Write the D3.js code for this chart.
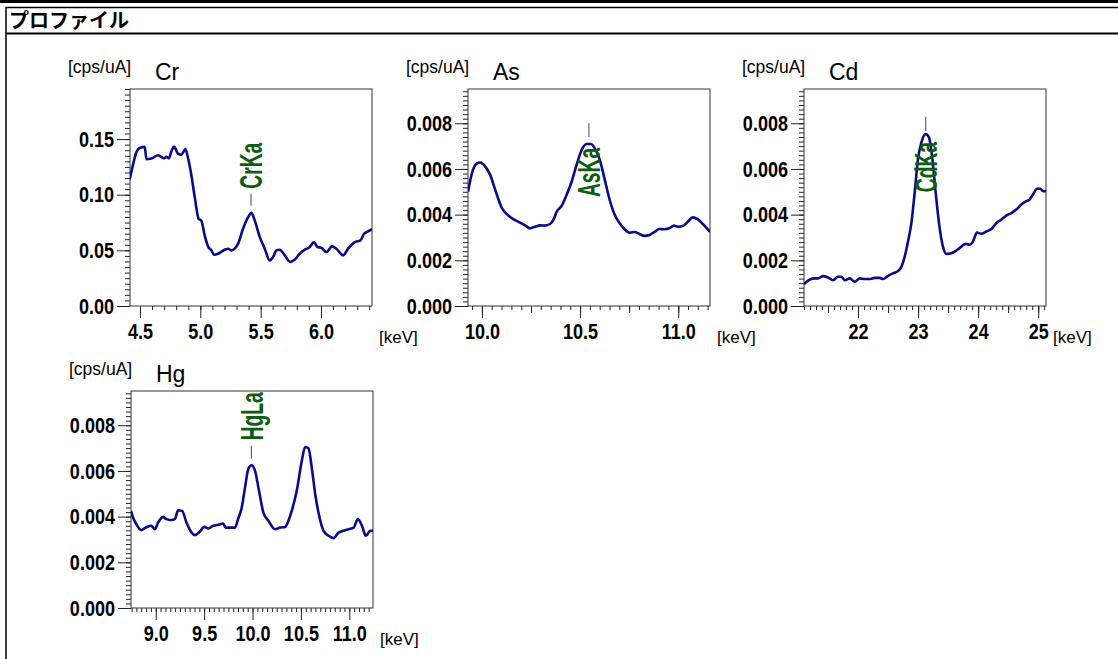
<!DOCTYPE html>
<html>
<head>
<meta charset="utf-8">
<script src="https://cdn.jsdelivr.net/npm/d3@7"></script>
<style>
body { margin: 0; background: #fff; }
svg { display: block; }
</style>
</head>
<body>
<div id="chart"></div>
<script>
// spectra (energy in keV, intensity in cps/uA)
var crEnergy = [4.415,4.442,4.469,4.497,4.539,4.553,4.594,4.649,4.677,4.699,4.718,4.740,4.760,4.782,4.815,4.843,4.876,4.898,4.925,4.954,4.987,5.008,5.036,5.064,5.091,5.114,5.147,5.202,5.230,5.257,5.285,5.313,5.354,5.396,5.423,5.451,5.493,5.534,5.575,5.603,5.630,5.658,5.700,5.746,5.783,5.824,5.866,5.907,5.943,5.970,6.003,6.045,6.092,6.128,6.183,6.225,6.280,6.327,6.357,6.390,6.423];
var crCps = [0.114,0.127,0.138,0.142,0.143,0.132,0.1325,0.1354,0.134,0.1327,0.134,0.1327,0.139,0.143,0.137,0.136,0.141,0.133,0.118,0.0976,0.078,0.0768,0.0634,0.0536,0.050,0.0461,0.047,0.0506,0.0515,0.050,0.0515,0.056,0.0694,0.0798,0.0837,0.0768,0.0619,0.0515,0.041,0.044,0.050,0.0506,0.0455,0.0396,0.0417,0.047,0.0506,0.053,0.0574,0.053,0.0524,0.0485,0.0536,0.0515,0.0455,0.0515,0.0574,0.059,0.0649,0.067,0.069];

var asEnergy = [9.929,9.949,9.975,9.991,10.017,10.042,10.068,10.102,10.127,10.160,10.194,10.220,10.245,10.271,10.296,10.321,10.347,10.364,10.381,10.406,10.431,10.457,10.482,10.508,10.533,10.555,10.575,10.601,10.626,10.651,10.677,10.702,10.727,10.753,10.778,10.803,10.829,10.854,10.880,10.905,10.930,10.955,10.978,10.998,11.023,11.049,11.074,11.099,11.125,11.162];
var asCps = [0.00500,0.00581,0.00625,0.00628,0.0061,0.00574,0.00508,0.00428,0.00402,0.0038,0.00365,0.00353,0.0034,0.00347,0.00353,0.00352,0.00359,0.00377,0.00413,0.00438,0.00486,0.00544,0.00617,0.00683,0.00709,0.00709,0.0069,0.00639,0.00552,0.00464,0.00398,0.00362,0.00336,0.00321,0.00324,0.00315,0.00307,0.00311,0.00325,0.00337,0.00336,0.0034,0.00352,0.00347,0.0035,0.00369,0.00388,0.0038,0.00359,0.00325];

var cdEnergy = [21.10,21.196,21.28,21.334,21.418,21.501,21.584,21.667,21.724,21.779,21.862,21.945,22.028,22.111,22.195,22.278,22.361,22.416,22.5,22.582,22.666,22.722,22.777,22.832,22.888,22.943,22.998,23.055,23.126,23.181,23.238,23.293,23.348,23.414,23.471,23.554,23.637,23.72,23.792,23.859,23.913,23.98,24.053,24.136,24.22,24.303,24.386,24.469,24.553,24.636,24.719,24.802,24.857,24.913,24.98,25.036,25.08,25.13];
var cdCps = [0.00096,0.00116,0.00121,0.00121,0.00131,0.00125,0.00113,0.00128,0.00128,0.00113,0.00121,0.00106,0.00121,0.00118,0.00118,0.00123,0.00123,0.00118,0.00132,0.00143,0.00153,0.00172,0.00216,0.00282,0.00363,0.00496,0.00643,0.00716,0.00753,0.00738,0.00643,0.00496,0.00363,0.0026,0.00228,0.00231,0.00243,0.0026,0.00272,0.00268,0.00282,0.00322,0.00316,0.00326,0.00337,0.00363,0.00378,0.00396,0.00407,0.00422,0.00444,0.00459,0.00466,0.00488,0.00513,0.00513,0.00503,0.00503];

var hgEnergy = [8.744,8.765,8.799,8.851,8.886,8.92,8.954,8.99,9.024,9.076,9.11,9.162,9.197,9.231,9.273,9.317,9.369,9.404,9.456,9.50,9.542,9.594,9.646,9.697,9.721,9.767,9.819,9.853,9.887,9.922,9.956,9.991,10.026,10.067,10.112,10.164,10.233,10.285,10.337,10.371,10.405,10.457,10.509,10.544,10.578,10.612,10.648,10.689,10.734,10.786,10.837,10.889,10.941,10.993,11.045,11.089,11.131,11.172,11.217,11.245];
var hgCps = [0.00425,0.00396,0.00367,0.00341,0.0035,0.00357,0.0036,0.00345,0.00374,0.00399,0.00389,0.00385,0.00389,0.00428,0.00425,0.00374,0.00331,0.00319,0.00335,0.00355,0.00348,0.0036,0.00364,0.0037,0.00352,0.00352,0.00352,0.00393,0.00437,0.00527,0.00608,0.00625,0.006,0.00513,0.00418,0.00382,0.00345,0.00352,0.00355,0.00382,0.00425,0.00513,0.00644,0.00705,0.00699,0.00615,0.00498,0.00403,0.00338,0.00316,0.00306,0.0033,0.00338,0.00345,0.00352,0.00389,0.0036,0.00316,0.00338,0.00338];

// tick labels
var crXTicks = [4.5, 5.0, 5.5, 6.0];
var asXTicks = [10.0, 10.5, 11.0];
var cdXTicks = [22, 23, 24, 25];
var hgXTicks = [9.0, 9.5, 10.0, 10.5, 11.0];
var crYTicks = [0, 0.05, 0.10, 0.15];
var smallYTicks = [0, 0.002, 0.004, 0.006, 0.008];

// peak markers: energy, marker bar (low/high) and where the label starts
var crPeak = {name: "CrKa", energy: 5.42,   low: 0.0902,  high: 0.1009,  text: 0.1054,  up: true};
var asPeak = {name: "AsKa", energy: 10.545, low: 0.0074,  high: 0.0080,  text: 0.00692, up: false};
var cdPeak = {name: "CdKa", energy: 23.127, low: 0.00766, high: 0.00828, text: 0.00718, up: false};
var hgPeak = {name: "HgLa", energy: 9.988,  low: 0.00653, high: 0.0071,  text: 0.00734, up: true};

var W = 1118, H = 659;
var plotW = 242, plotH = 217;
var txtFont = "'Liberation Sans', Arial, sans-serif";
var squeeze = 0.82; // tick labels in the original are a condensed face

var svg = d3.select("#chart").append("svg")
    .attr("width", W)
    .attr("height", H);

// window frame
svg.append("rect").attr("x", 0).attr("y", 0).attr("width", W).attr("height", 3).attr("fill", "#000");
svg.append("rect").attr("x", 6).attr("y", 7.5).attr("width", W + 10).attr("height", H + 10)
    .attr("fill", "none").attr("stroke", "#000").attr("stroke-width", 1.5);
svg.append("line").attr("x1", 6).attr("x2", W).attr("y1", 33.5).attr("y2", 33.5)
    .attr("stroke", "#000").attr("stroke-width", 2);
svg.append("text").attr("x", 9).attr("y", 28)
    .text("プロファイル")
    .style("font-family", "'Noto Sans CJK JP', sans-serif")
    .style("font-size", "20px")
    .style("font-weight", "bold");

function stepTicks(domain, step) {
    var out = [];
    var start = Math.ceil(domain[0] / step - 1e-6);
    for (var i = start; i * step <= domain[1] + 1e-9; i++) out.push(+(i * step).toFixed(6));
    return out;
}

function drawPanel(p) {
    var x = d3.scaleLinear().domain(p.xDomain).range([p.left, p.left + plotW]);
    var y = d3.scaleLinear().domain(p.yDomain).range([p.top + plotH, p.top]);
    var g = svg.append("g");
    var bottom = p.top + plotH;

    // minor ticks
    g.append("g").attr("transform", "translate(0," + bottom + ")")
        .call(d3.axisBottom(x).tickValues(stepTicks(p.xDomain, p.xMinor)).tickSize(4).tickFormat(""));
    if (p.xMid) {
        g.append("g").attr("transform", "translate(0," + bottom + ")")
            .call(d3.axisBottom(x).tickValues(stepTicks(p.xDomain, p.xMid)).tickSize(7).tickFormat(""));
    }
    g.append("g").attr("transform", "translate(" + p.left + ",0)")
        .call(d3.axisLeft(y).tickValues(stepTicks(p.yDomain, p.yMinor)).tickSize(5).tickFormat(""));

    // major ticks with labels
    var xa = g.append("g").attr("transform", "translate(0," + bottom + ")")
        .call(d3.axisBottom(x).tickValues(p.xTicks).tickSize(12).tickPadding(5).tickFormat(d3.format(p.xFmt)));
    var ya = g.append("g").attr("transform", "translate(" + p.left + ",0)")
        .call(d3.axisLeft(y).tickValues(p.yTicks).tickSize(13).tickPadding(3).tickFormat(d3.format(p.yFmt)));
    [xa, ya].forEach(function(a) {
        a.attr("font-family", txtFont).attr("font-size", 22).attr("font-weight", "bold");
        a.selectAll("text").attr("fill", "#000");
    });
    xa.selectAll("text").attr("transform", "scale(" + squeeze + ",1)");
    ya.selectAll("text")
        .attr("transform", "translate(-16,0) scale(" + squeeze + ",1)")
        .attr("x", 0);
    g.selectAll(".domain").remove();
    g.selectAll(".tick line").attr("stroke", "#222");

    // frame
    g.append("rect").attr("x", p.left).attr("y", p.top).attr("width", plotW).attr("height", plotH)
        .attr("fill", "none").attr("stroke", "#333").attr("stroke-width", 1);

    // curve
    var clipId = "clip-" + p.title;
    g.append("clipPath").attr("id", clipId).append("rect")
        .attr("x", p.left).attr("y", p.top).attr("width", plotW).attr("height", plotH);
    var pts = p.energy.map(function(e, i) { return [e, p.cps[i]]; });
    var line = d3.line()
        .x(function(d) { return x(d[0]); })
        .y(function(d) { return y(d[1]); })
        .curve(d3.curveMonotoneX);
    g.append("path").datum(pts)
        .attr("clip-path", "url(#" + clipId + ")")
        .attr("d", line)
        .attr("fill", "none")
        .attr("stroke", "#0b0b8a")
        .attr("stroke-width", 2.6)
        .attr("stroke-linejoin", "round");

    // peak marker
    var pk = p.peak;
    g.append("line")
        .attr("x1", x(pk.energy)).attr("x2", x(pk.energy))
        .attr("y1", y(pk.low)).attr("y2", y(pk.high))
        .attr("stroke", "#444").attr("stroke-width", 1);
    g.append("text")
        .attr("transform", "translate(" + x(pk.energy) + "," + y(pk.text) + ") rotate(-90) scale(0.62,1)")
        .attr("text-anchor", pk.up ? "start" : "end")
        .attr("dy", "0.36em")
        .attr("fill", "#0d5c12")
        .style("font-family", txtFont)
        .style("font-size", "31px")
        .style("font-weight", "bold")
        .text(pk.name);

    // titles
    g.append("text").attr("x", p.left - 62).attr("y", p.top - 16)
        .text("[cps/uA]")
        .style("font-family", txtFont).style("font-size", "17.5px");
    g.append("text").attr("x", p.left + 25).attr("y", p.top - 9)
        .text(p.title)
        .style("font-family", txtFont).style("font-size", "23px");
    g.append("text").attr("x", p.left + plotW + 7).attr("y", bottom + 37)
        .text("[keV]")
        .style("font-family", txtFont).style("font-size", "17px");
}

drawPanel({title: "Cr", left: 130, top: 89, xDomain: [4.417, 6.423], yDomain: [0, 0.195],
    energy: crEnergy, cps: crCps, xTicks: crXTicks, yTicks: crYTicks, xFmt: ".1f", yFmt: ".2f",
    xMinor: 0.1, xMid: null, yMinor: 0.005, peak: crPeak});
drawPanel({title: "As", left: 468, top: 89, xDomain: [9.929, 11.162], yDomain: [0, 0.0095],
    energy: asEnergy, cps: asCps, xTicks: asXTicks, yTicks: smallYTicks, xFmt: ".1f", yFmt: ".3f",
    xMinor: 0.05, xMid: 0.25, yMinor: 0.0002, peak: asPeak});
drawPanel({title: "Cd", left: 804, top: 89, xDomain: [21.10, 25.13], yDomain: [0, 0.0095],
    energy: cdEnergy, cps: cdCps, xTicks: cdXTicks, yTicks: smallYTicks, xFmt: "d", yFmt: ".3f",
    xMinor: 0.1, xMid: 0.5, yMinor: 0.0002, peak: cdPeak});
drawPanel({title: "Hg", left: 131, top: 391, xDomain: [8.744, 11.245], yDomain: [0, 0.0095],
    energy: hgEnergy, cps: hgCps, xTicks: hgXTicks, yTicks: smallYTicks, xFmt: ".1f", yFmt: ".3f",
    xMinor: 0.05, xMid: null, yMinor: 0.0002, peak: hgPeak});
</script>
</body>
</html>
